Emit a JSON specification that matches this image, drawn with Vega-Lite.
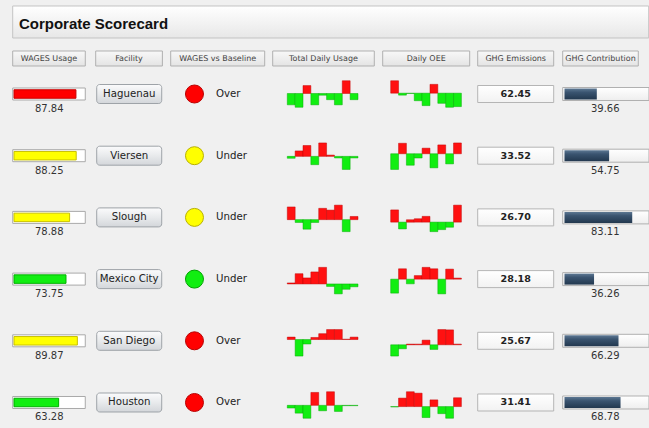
{
  "$schema": "https://vega.github.io/schema/vega-lite/v6.json",
  "background": "#f0f0f0",
  "padding": {"left": 11.7, "top": 5, "right": 0, "bottom": 0},
  "spacing": 13,
  "bounds": "flush",
  "config": {"view": {"stroke": null}, "font": "DejaVu Sans"},
  "datasets": {
    "facilities": [
      {"facility": "Haguenau", "wagesUsage": 87.84, "wagesLevel": "Critical", "baseline": "Over", "baselineLevel": "Critical", "ghgEmissions": 62.45, "ghgContribution": 39.66},
      {"facility": "Viersen", "wagesUsage": 88.25, "wagesLevel": "Warning", "baseline": "Under", "baselineLevel": "Warning", "ghgEmissions": 33.52, "ghgContribution": 54.75},
      {"facility": "Slough", "wagesUsage": 78.88, "wagesLevel": "Warning", "baseline": "Under", "baselineLevel": "Warning", "ghgEmissions": 26.70, "ghgContribution": 83.11},
      {"facility": "Mexico City", "wagesUsage": 73.75, "wagesLevel": "Good", "baseline": "Under", "baselineLevel": "Good", "ghgEmissions": 28.18, "ghgContribution": 36.26},
      {"facility": "San Diego", "wagesUsage": 89.87, "wagesLevel": "Warning", "baseline": "Over", "baselineLevel": "Critical", "ghgEmissions": 25.67, "ghgContribution": 66.29},
      {"facility": "Houston", "wagesUsage": 63.28, "wagesLevel": "Good", "baseline": "Over", "baselineLevel": "Critical", "ghgEmissions": 31.41, "ghgContribution": 68.78}
    ],
    "daily": [
      {"facility": "Haguenau", "metric": "Total Daily Usage", "day": 1, "value": -33},
      {"facility": "Haguenau", "metric": "Total Daily Usage", "day": 2, "value": -40},
      {"facility": "Haguenau", "metric": "Total Daily Usage", "day": 3, "value": 23},
      {"facility": "Haguenau", "metric": "Total Daily Usage", "day": 4, "value": -33},
      {"facility": "Haguenau", "metric": "Total Daily Usage", "day": 5, "value": -5},
      {"facility": "Haguenau", "metric": "Total Daily Usage", "day": 6, "value": -18},
      {"facility": "Haguenau", "metric": "Total Daily Usage", "day": 7, "value": -33},
      {"facility": "Haguenau", "metric": "Total Daily Usage", "day": 8, "value": 37},
      {"facility": "Haguenau", "metric": "Total Daily Usage", "day": 9, "value": -18},
      {"facility": "Viersen", "metric": "Total Daily Usage", "day": 1, "value": -6},
      {"facility": "Viersen", "metric": "Total Daily Usage", "day": 2, "value": 17},
      {"facility": "Viersen", "metric": "Total Daily Usage", "day": 3, "value": 34},
      {"facility": "Viersen", "metric": "Total Daily Usage", "day": 4, "value": -26},
      {"facility": "Viersen", "metric": "Total Daily Usage", "day": 5, "value": 42},
      {"facility": "Viersen", "metric": "Total Daily Usage", "day": 6, "value": 4},
      {"facility": "Viersen", "metric": "Total Daily Usage", "day": 7, "value": -5},
      {"facility": "Viersen", "metric": "Total Daily Usage", "day": 8, "value": -41},
      {"facility": "Viersen", "metric": "Total Daily Usage", "day": 9, "value": -5},
      {"facility": "Slough", "metric": "Total Daily Usage", "day": 1, "value": 36},
      {"facility": "Slough", "metric": "Total Daily Usage", "day": 2, "value": -8},
      {"facility": "Slough", "metric": "Total Daily Usage", "day": 3, "value": -27},
      {"facility": "Slough", "metric": "Total Daily Usage", "day": 4, "value": -8},
      {"facility": "Slough", "metric": "Total Daily Usage", "day": 5, "value": 32},
      {"facility": "Slough", "metric": "Total Daily Usage", "day": 6, "value": 27},
      {"facility": "Slough", "metric": "Total Daily Usage", "day": 7, "value": 41},
      {"facility": "Slough", "metric": "Total Daily Usage", "day": 8, "value": -34},
      {"facility": "Slough", "metric": "Total Daily Usage", "day": 9, "value": 9},
      {"facility": "Mexico City", "metric": "Total Daily Usage", "day": 1, "value": 3},
      {"facility": "Mexico City", "metric": "Total Daily Usage", "day": 2, "value": 29},
      {"facility": "Mexico City", "metric": "Total Daily Usage", "day": 3, "value": 17},
      {"facility": "Mexico City", "metric": "Total Daily Usage", "day": 4, "value": 34},
      {"facility": "Mexico City", "metric": "Total Daily Usage", "day": 5, "value": 47},
      {"facility": "Mexico City", "metric": "Total Daily Usage", "day": 6, "value": -7},
      {"facility": "Mexico City", "metric": "Total Daily Usage", "day": 7, "value": -28},
      {"facility": "Mexico City", "metric": "Total Daily Usage", "day": 8, "value": -15},
      {"facility": "Mexico City", "metric": "Total Daily Usage", "day": 9, "value": -8},
      {"facility": "San Diego", "metric": "Total Daily Usage", "day": 1, "value": 7},
      {"facility": "San Diego", "metric": "Total Daily Usage", "day": 2, "value": -48},
      {"facility": "San Diego", "metric": "Total Daily Usage", "day": 3, "value": -13},
      {"facility": "San Diego", "metric": "Total Daily Usage", "day": 4, "value": 6},
      {"facility": "San Diego", "metric": "Total Daily Usage", "day": 5, "value": 17},
      {"facility": "San Diego", "metric": "Total Daily Usage", "day": 6, "value": 29},
      {"facility": "San Diego", "metric": "Total Daily Usage", "day": 7, "value": 29},
      {"facility": "San Diego", "metric": "Total Daily Usage", "day": 8, "value": 1},
      {"facility": "San Diego", "metric": "Total Daily Usage", "day": 9, "value": 7},
      {"facility": "Houston", "metric": "Total Daily Usage", "day": 1, "value": -8},
      {"facility": "Houston", "metric": "Total Daily Usage", "day": 2, "value": -23},
      {"facility": "Houston", "metric": "Total Daily Usage", "day": 3, "value": -38},
      {"facility": "Houston", "metric": "Total Daily Usage", "day": 4, "value": 38},
      {"facility": "Houston", "metric": "Total Daily Usage", "day": 5, "value": -16},
      {"facility": "Houston", "metric": "Total Daily Usage", "day": 6, "value": 40},
      {"facility": "Houston", "metric": "Total Daily Usage", "day": 7, "value": -18},
      {"facility": "Houston", "metric": "Total Daily Usage", "day": 8, "value": -1},
      {"facility": "Houston", "metric": "Total Daily Usage", "day": 9, "value": -1},
      {"facility": "Haguenau", "metric": "Daily OEE", "day": 1, "value": 38},
      {"facility": "Haguenau", "metric": "Daily OEE", "day": 2, "value": -6},
      {"facility": "Haguenau", "metric": "Daily OEE", "day": 3, "value": -1},
      {"facility": "Haguenau", "metric": "Daily OEE", "day": 4, "value": -23},
      {"facility": "Haguenau", "metric": "Daily OEE", "day": 5, "value": -38},
      {"facility": "Haguenau", "metric": "Daily OEE", "day": 6, "value": 27},
      {"facility": "Haguenau", "metric": "Daily OEE", "day": 7, "value": -31},
      {"facility": "Haguenau", "metric": "Daily OEE", "day": 8, "value": -43},
      {"facility": "Haguenau", "metric": "Daily OEE", "day": 9, "value": -41},
      {"facility": "Viersen", "metric": "Daily OEE", "day": 1, "value": -48},
      {"facility": "Viersen", "metric": "Daily OEE", "day": 2, "value": 32},
      {"facility": "Viersen", "metric": "Daily OEE", "day": 3, "value": -35},
      {"facility": "Viersen", "metric": "Daily OEE", "day": 4, "value": -13},
      {"facility": "Viersen", "metric": "Daily OEE", "day": 5, "value": 17},
      {"facility": "Viersen", "metric": "Daily OEE", "day": 6, "value": -43},
      {"facility": "Viersen", "metric": "Daily OEE", "day": 7, "value": 27},
      {"facility": "Viersen", "metric": "Daily OEE", "day": 8, "value": -31},
      {"facility": "Viersen", "metric": "Daily OEE", "day": 9, "value": 33},
      {"facility": "Slough", "metric": "Daily OEE", "day": 1, "value": 36},
      {"facility": "Slough", "metric": "Daily OEE", "day": 2, "value": -20},
      {"facility": "Slough", "metric": "Daily OEE", "day": 3, "value": 7},
      {"facility": "Slough", "metric": "Daily OEE", "day": 4, "value": 10},
      {"facility": "Slough", "metric": "Daily OEE", "day": 5, "value": 17},
      {"facility": "Slough", "metric": "Daily OEE", "day": 6, "value": -28},
      {"facility": "Slough", "metric": "Daily OEE", "day": 7, "value": -22},
      {"facility": "Slough", "metric": "Daily OEE", "day": 8, "value": -15},
      {"facility": "Slough", "metric": "Daily OEE", "day": 9, "value": 50},
      {"facility": "Mexico City", "metric": "Daily OEE", "day": 1, "value": -39},
      {"facility": "Mexico City", "metric": "Daily OEE", "day": 2, "value": 29},
      {"facility": "Mexico City", "metric": "Daily OEE", "day": 3, "value": -13},
      {"facility": "Mexico City", "metric": "Daily OEE", "day": 4, "value": 10},
      {"facility": "Mexico City", "metric": "Daily OEE", "day": 5, "value": 33},
      {"facility": "Mexico City", "metric": "Daily OEE", "day": 6, "value": 29},
      {"facility": "Mexico City", "metric": "Daily OEE", "day": 7, "value": -41},
      {"facility": "Mexico City", "metric": "Daily OEE", "day": 8, "value": 28},
      {"facility": "Mexico City", "metric": "Daily OEE", "day": 9, "value": 3},
      {"facility": "San Diego", "metric": "Daily OEE", "day": 1, "value": -34},
      {"facility": "San Diego", "metric": "Daily OEE", "day": 2, "value": -12},
      {"facility": "San Diego", "metric": "Daily OEE", "day": 3, "value": 2},
      {"facility": "San Diego", "metric": "Daily OEE", "day": 4, "value": 2},
      {"facility": "San Diego", "metric": "Daily OEE", "day": 5, "value": 14},
      {"facility": "San Diego", "metric": "Daily OEE", "day": 6, "value": -14},
      {"facility": "San Diego", "metric": "Daily OEE", "day": 7, "value": 46},
      {"facility": "San Diego", "metric": "Daily OEE", "day": 8, "value": 45},
      {"facility": "San Diego", "metric": "Daily OEE", "day": 9, "value": 2},
      {"facility": "Houston", "metric": "Daily OEE", "day": 1, "value": -1},
      {"facility": "Houston", "metric": "Daily OEE", "day": 2, "value": 24},
      {"facility": "Houston", "metric": "Daily OEE", "day": 3, "value": 42},
      {"facility": "Houston", "metric": "Daily OEE", "day": 4, "value": 38},
      {"facility": "Houston", "metric": "Daily OEE", "day": 5, "value": -31},
      {"facility": "Houston", "metric": "Daily OEE", "day": 6, "value": 19},
      {"facility": "Houston", "metric": "Daily OEE", "day": 7, "value": -20},
      {"facility": "Houston", "metric": "Daily OEE", "day": 8, "value": -33},
      {"facility": "Houston", "metric": "Daily OEE", "day": 9, "value": 25}
    ]
  },
  "vconcat": [
    {
      "width": 636, "height": 32,
      "data": {"values": [{"title": "Corporate Scorecard"}]},
      "layer": [
        {"mark": {"type": "rect", "fill": {"gradient": "linear", "x1": 0, "y1": 0, "x2": 0, "y2": 1, "stops": [{"offset": 0, "color": "#ffffff"}, {"offset": 1, "color": "#e7e7e7"}]}, "stroke": "#c4c4c4", "strokeWidth": 1},
         "encoding": {"x": {"datum": 0, "type": "quantitative", "scale": {"domain": [0, 1]}, "axis": null}, "x2": {"datum": 1},
                      "y": {"datum": 0, "type": "quantitative", "scale": {"domain": [0, 1]}, "axis": null}, "y2": {"datum": 1}}},
        {"mark": {"type": "text", "font": "Liberation Sans", "fontWeight": "bold", "fontSize": 15, "align": "left", "baseline": "alphabetic", "color": "#111111"},
         "encoding": {"text": {"field": "title"}, "x": {"datum": 0.0099, "type": "quantitative"}, "y": {"datum": 0.28, "type": "quantitative"}}}
      ]
    },
    {
      "spacing": 6,
      "hconcat": [
        {
          "spacing": 0,
          "bounds": "flush",
          "vconcat": [
            {"width": 75.3, "height": 15, "data": {"values": [{"header": "WAGES Usage"}]},
             "layer": [
               {"mark": {"type": "rect", "fill": {"gradient": "linear", "x1": 0, "y1": 0, "x2": 0, "y2": 1, "stops": [{"offset": 0, "color": "#f8f8f8"}, {"offset": 1, "color": "#e4e4e4"}]}, "stroke": "#b0b0b0", "strokeWidth": 1},
                "encoding": {"x": {"datum": 0, "type": "quantitative", "scale": {"domain": [0, 1]}, "axis": null}, "x2": {"datum": 0.964}, "y": {"datum": 0, "type": "quantitative", "scale": {"domain": [0, 1]}, "axis": null}, "y2": {"datum": 1}}},
               {"mark": {"type": "text", "fontSize": 8, "color": "#444444"},
                "encoding": {"text": {"field": "header"}, "x": {"datum": 0.482, "type": "quantitative"}, "y": {"datum": 0.5, "type": "quantitative"}}}
             ]},
            {"width": 75.3, "height": 364.5, "data": {"name": "facilities"},
             "encoding": {"y": {"field": "facility", "type": "nominal", "sort": ["Haguenau", "Viersen", "Slough", "Mexico City", "San Diego", "Houston"], "scale": {"type": "point", "padding": 0.4538}, "axis": null}},
             "layer": [
               {"mark": {"type": "bar", "size": 12, "fill": "#ffffff", "stroke": "#a9a9a9", "strokeWidth": 1},
                "encoding": {"x": {"datum": -1.8, "type": "quantitative", "scale": {"domain": [0, 100], "range": [1.3, 71.8]}, "axis": null}, "x2": {"datum": 101.1}}},
               {"mark": {"type": "bar", "size": 8.5, "strokeWidth": 1},
                "encoding": {"x": {"field": "wagesUsage", "type": "quantitative"},
                             "fill": {"field": "wagesLevel", "type": "nominal", "scale": {"domain": ["Critical", "Warning", "Good"], "range": ["#ff0000", "#ffff00", "#11ee11"]}, "legend": null},
                             "stroke": {"field": "wagesLevel", "type": "nominal", "scale": {"domain": ["Critical", "Warning", "Good"], "range": ["#c80000", "#c8c000", "#00b000"]}, "legend": null}}},
               {"mark": {"type": "text", "dy": 15, "fontSize": 10, "color": "#333333"},
                "encoding": {"x": {"datum": 50, "type": "quantitative"}, "text": {"field": "wagesUsage", "type": "quantitative", "format": ".2f"}}}
             ]}
          ]
        },
        {
          "spacing": 0,
          "bounds": "flush",
          "vconcat": [
            {"width": 67.7, "height": 15, "data": {"values": [{"header": "Facility"}]},
             "layer": [
               {"mark": {"type": "rect", "fill": {"gradient": "linear", "x1": 0, "y1": 0, "x2": 0, "y2": 1, "stops": [{"offset": 0, "color": "#f8f8f8"}, {"offset": 1, "color": "#e4e4e4"}]}, "stroke": "#b0b0b0", "strokeWidth": 1},
                "encoding": {"x": {"datum": 0, "type": "quantitative", "scale": {"domain": [0, 1]}, "axis": null}, "x2": {"datum": 0.985}, "y": {"datum": 0, "type": "quantitative", "scale": {"domain": [0, 1]}, "axis": null}, "y2": {"datum": 1}}},
               {"mark": {"type": "text", "fontSize": 8, "color": "#444444"},
                "encoding": {"text": {"field": "header"}, "x": {"datum": 0.492, "type": "quantitative"}, "y": {"datum": 0.5, "type": "quantitative"}}}
             ]},
            {"width": 67.7, "height": 364.5, "data": {"name": "facilities"},
             "encoding": {"y": {"field": "facility", "type": "nominal", "sort": ["Haguenau", "Viersen", "Slough", "Mexico City", "San Diego", "Houston"], "scale": {"type": "point", "padding": 0.4538}, "axis": null}},
             "layer": [
               {"mark": {"type": "bar", "size": 19, "cornerRadius": 3, "fill": {"gradient": "linear", "x1": 0, "y1": 0, "x2": 0, "y2": 1, "stops": [{"offset": 0, "color": "#fbfbfc"}, {"offset": 0.5, "color": "#e8eaec"}, {"offset": 1, "color": "#d3d6da"}]}, "stroke": "#9ea3a8", "strokeWidth": 1},
                "encoding": {"x": {"datum": 0.015, "type": "quantitative", "scale": {"domain": [0, 1]}, "axis": null}, "x2": {"datum": 0.975}}},
               {"mark": {"type": "text", "fontSize": 10.2, "color": "#222222"},
                "encoding": {"x": {"datum": 0.495, "type": "quantitative"}, "text": {"field": "facility"}}}
             ]}
          ]
        },
        {
          "spacing": 0,
          "bounds": "flush",
          "vconcat": [
            {"width": 94, "height": 15, "data": {"values": [{"header": "WAGES vs Baseline"}]},
             "layer": [
               {"mark": {"type": "rect", "fill": {"gradient": "linear", "x1": 0, "y1": 0, "x2": 0, "y2": 1, "stops": [{"offset": 0, "color": "#f8f8f8"}, {"offset": 1, "color": "#e4e4e4"}]}, "stroke": "#b0b0b0", "strokeWidth": 1},
                "encoding": {"x": {"datum": 0, "type": "quantitative", "scale": {"domain": [0, 1]}, "axis": null}, "x2": {"datum": 1}, "y": {"datum": 0, "type": "quantitative", "scale": {"domain": [0, 1]}, "axis": null}, "y2": {"datum": 1}}},
               {"mark": {"type": "text", "fontSize": 8, "color": "#444444"},
                "encoding": {"text": {"field": "header"}, "x": {"datum": 0.5, "type": "quantitative"}, "y": {"datum": 0.5, "type": "quantitative"}}}
             ]},
            {"width": 94, "height": 364.5, "data": {"name": "facilities"},
             "encoding": {"y": {"field": "facility", "type": "nominal", "sort": ["Haguenau", "Viersen", "Slough", "Mexico City", "San Diego", "Houston"], "scale": {"type": "point", "padding": 0.4538}, "axis": null}},
             "layer": [
               {"mark": {"type": "circle", "size": 324, "opacity": 1, "strokeWidth": 1},
                "encoding": {"x": {"datum": 0.253, "type": "quantitative", "scale": {"domain": [0, 1]}, "axis": null},
                             "fill": {"field": "baselineLevel", "type": "nominal", "scale": {"domain": ["Critical", "Warning", "Good"], "range": ["#ff0000", "#ffff00", "#11ee11"]}, "legend": null},
                             "stroke": {"field": "baselineLevel", "type": "nominal", "scale": {"domain": ["Critical", "Warning", "Good"], "range": ["#b80000", "#b8b000", "#00a000"]}, "legend": null}}},
               {"mark": {"type": "text", "fontSize": 10.2, "align": "left", "color": "#222222"},
                "encoding": {"x": {"datum": 0.482, "type": "quantitative"}, "text": {"field": "baseline"}}}
             ]}
          ]
        },
        {
          "spacing": 14.75,
          "bounds": "flush",
          "vconcat": [
            {"width": 101.6, "height": 15, "data": {"values": [{"header": "Total Daily Usage"}]},
             "layer": [
               {"mark": {"type": "rect", "fill": {"gradient": "linear", "x1": 0, "y1": 0, "x2": 0, "y2": 1, "stops": [{"offset": 0, "color": "#f8f8f8"}, {"offset": 1, "color": "#e4e4e4"}]}, "stroke": "#b0b0b0", "strokeWidth": 1},
                "encoding": {"x": {"datum": 0, "type": "quantitative", "scale": {"domain": [0, 1]}, "axis": null}, "x2": {"datum": 1}, "y": {"datum": 0, "type": "quantitative", "scale": {"domain": [0, 1]}, "axis": null}, "y2": {"datum": 1}}},
               {"mark": {"type": "text", "fontSize": 8, "color": "#444444"},
                "encoding": {"text": {"field": "header"}, "x": {"datum": 0.5, "type": "quantitative"}, "y": {"datum": 0.5, "type": "quantitative"}}}
             ]},
            {"data": {"name": "daily"},
             "transform": [{"filter": "datum.metric === 'Total Daily Usage'"}],
             "bounds": "flush",
             "facet": {"row": {"field": "facility", "type": "nominal", "sort": ["Haguenau", "Viersen", "Slough", "Mexico City", "San Diego", "Houston"], "header": null}},
             "spacing": {"row": 35.2},
             "resolve": {"scale": {"y": "independent"}},
             "spec": {
               "width": 101.6, "height": 26.5,
               "mark": {"type": "bar", "strokeWidth": 0.8, "strokeOpacity": 0.6},
               "encoding": {
                 "x": {"field": "day", "type": "ordinal", "scale": {"paddingInner": 0, "paddingOuter": 0, "range": [14.6, 85.3]}, "axis": null},
                 "y": {"field": "value", "type": "quantitative", "scale": {"nice": false}, "axis": null},
                 "fill": {"field": "value", "type": "quantitative", "scale": {"type": "threshold", "domain": [0], "range": ["#11ee11", "#ff1111"]}, "legend": null},
                 "stroke": {"field": "value", "type": "quantitative", "scale": {"type": "threshold", "domain": [0], "range": ["#00a800", "#c00000"]}, "legend": null}
               }
             }}
          ]
        },
        {
          "spacing": 14.75,
          "bounds": "flush",
          "vconcat": [
            {"width": 87, "height": 15, "data": {"values": [{"header": "Daily OEE"}]},
             "layer": [
               {"mark": {"type": "rect", "fill": {"gradient": "linear", "x1": 0, "y1": 0, "x2": 0, "y2": 1, "stops": [{"offset": 0, "color": "#f8f8f8"}, {"offset": 1, "color": "#e4e4e4"}]}, "stroke": "#b0b0b0", "strokeWidth": 1},
                "encoding": {"x": {"datum": 0, "type": "quantitative", "scale": {"domain": [0, 1]}, "axis": null}, "x2": {"datum": 1}, "y": {"datum": 0, "type": "quantitative", "scale": {"domain": [0, 1]}, "axis": null}, "y2": {"datum": 1}}},
               {"mark": {"type": "text", "fontSize": 8, "color": "#444444"},
                "encoding": {"text": {"field": "header"}, "x": {"datum": 0.5, "type": "quantitative"}, "y": {"datum": 0.5, "type": "quantitative"}}}
             ]},
            {"data": {"name": "daily"},
             "transform": [{"filter": "datum.metric === 'Daily OEE'"}],
             "bounds": "flush",
             "facet": {"row": {"field": "facility", "type": "nominal", "sort": ["Haguenau", "Viersen", "Slough", "Mexico City", "San Diego", "Houston"], "header": null}},
             "spacing": {"row": 35.2},
             "resolve": {"scale": {"y": "independent"}},
             "spec": {
               "width": 87, "height": 26.5,
               "mark": {"type": "bar", "strokeWidth": 0.8, "strokeOpacity": 0.6},
               "encoding": {
                 "x": {"field": "day", "type": "ordinal", "scale": {"paddingInner": 0, "paddingOuter": 0, "range": [8, 78.7]}, "axis": null},
                 "y": {"field": "value", "type": "quantitative", "scale": {"nice": false}, "axis": null},
                 "fill": {"field": "value", "type": "quantitative", "scale": {"type": "threshold", "domain": [0], "range": ["#11ee11", "#ff1111"]}, "legend": null},
                 "stroke": {"field": "value", "type": "quantitative", "scale": {"type": "threshold", "domain": [0], "range": ["#00a800", "#c00000"]}, "legend": null}
               }
             }}
          ]
        },
        {
          "spacing": 0,
          "bounds": "flush",
          "vconcat": [
            {"width": 77.4, "height": 15, "data": {"values": [{"header": "GHG Emissions"}]},
             "layer": [
               {"mark": {"type": "rect", "fill": {"gradient": "linear", "x1": 0, "y1": 0, "x2": 0, "y2": 1, "stops": [{"offset": 0, "color": "#f8f8f8"}, {"offset": 1, "color": "#e4e4e4"}]}, "stroke": "#b0b0b0", "strokeWidth": 1},
                "encoding": {"x": {"datum": 0, "type": "quantitative", "scale": {"domain": [0, 1]}, "axis": null}, "x2": {"datum": 0.982}, "y": {"datum": 0, "type": "quantitative", "scale": {"domain": [0, 1]}, "axis": null}, "y2": {"datum": 1}}},
               {"mark": {"type": "text", "fontSize": 8, "color": "#444444"},
                "encoding": {"text": {"field": "header"}, "x": {"datum": 0.491, "type": "quantitative"}, "y": {"datum": 0.5, "type": "quantitative"}}}
             ]},
            {"width": 77.4, "height": 364.5, "data": {"name": "facilities"},
             "encoding": {"y": {"field": "facility", "type": "nominal", "sort": ["Haguenau", "Viersen", "Slough", "Mexico City", "San Diego", "Houston"], "scale": {"type": "point", "padding": 0.4538}, "axis": null}},
             "layer": [
               {"mark": {"type": "bar", "size": 17, "fill": {"gradient": "linear", "x1": 0, "y1": 0, "x2": 0, "y2": 1, "stops": [{"offset": 0, "color": "#ffffff"}, {"offset": 1, "color": "#f2f2f2"}]}, "stroke": "#b5b5b5", "strokeWidth": 1},
                "encoding": {"x": {"datum": 0, "type": "quantitative", "scale": {"domain": [0, 1]}, "axis": null}, "x2": {"datum": 0.982}}},
               {"mark": {"type": "text", "fontSize": 9.6, "fontWeight": "bold", "color": "#222222"},
                "encoding": {"x": {"datum": 0.491, "type": "quantitative"}, "text": {"field": "ghgEmissions", "type": "quantitative", "format": ".2f"}}}
             ]}
          ]
        },
        {
          "spacing": 0,
          "bounds": "flush",
          "vconcat": [
            {"width": 75.6, "height": 15, "data": {"values": [{"header": "GHG Contribution"}]},
             "layer": [
               {"mark": {"type": "rect", "fill": {"gradient": "linear", "x1": 0, "y1": 0, "x2": 0, "y2": 1, "stops": [{"offset": 0, "color": "#f8f8f8"}, {"offset": 1, "color": "#e4e4e4"}]}, "stroke": "#b0b0b0", "strokeWidth": 1},
                "encoding": {"x": {"datum": 0, "type": "quantitative", "scale": {"domain": [0, 1]}, "axis": null}, "x2": {"datum": 1}, "y": {"datum": 0, "type": "quantitative", "scale": {"domain": [0, 1]}, "axis": null}, "y2": {"datum": 1}}},
               {"mark": {"type": "text", "fontSize": 8, "color": "#444444"},
                "encoding": {"text": {"field": "header"}, "x": {"datum": 0.5, "type": "quantitative"}, "y": {"datum": 0.5, "type": "quantitative"}}}
             ]},
            {"width": 86.3, "height": 364.5, "data": {"name": "facilities"},
             "encoding": {"y": {"field": "facility", "type": "nominal", "sort": ["Haguenau", "Viersen", "Slough", "Mexico City", "San Diego", "Houston"], "scale": {"type": "point", "padding": 0.4538}, "axis": null}},
             "layer": [
               {"mark": {"type": "bar", "size": 13, "fill": {"gradient": "linear", "x1": 0, "y1": 0, "x2": 0, "y2": 1, "stops": [{"offset": 0, "color": "#ffffff"}, {"offset": 1, "color": "#eeeeee"}]}, "stroke": "#b0b0b0", "strokeWidth": 1},
                "encoding": {"x": {"datum": -2.2, "type": "quantitative", "scale": {"domain": [0, 100], "range": [1.8, 83.3]}, "axis": null}, "x2": {"datum": 103.7}}},
               {"mark": {"type": "bar", "size": 11, "fill": {"gradient": "linear", "x1": 0, "y1": 0, "x2": 0, "y2": 1, "stops": [{"offset": 0, "color": "#5d7893"}, {"offset": 0.35, "color": "#3a5470"}, {"offset": 1, "color": "#22384f"}]}},
                "encoding": {"x": {"field": "ghgContribution", "type": "quantitative"}}},
               {"mark": {"type": "text", "dy": 15, "fontSize": 10, "color": "#333333"},
                "encoding": {"x": {"datum": 50, "type": "quantitative"}, "text": {"field": "ghgContribution", "type": "quantitative", "format": ".2f"}}}
             ]}
          ]
        }
      ]
    }
  ]
}
